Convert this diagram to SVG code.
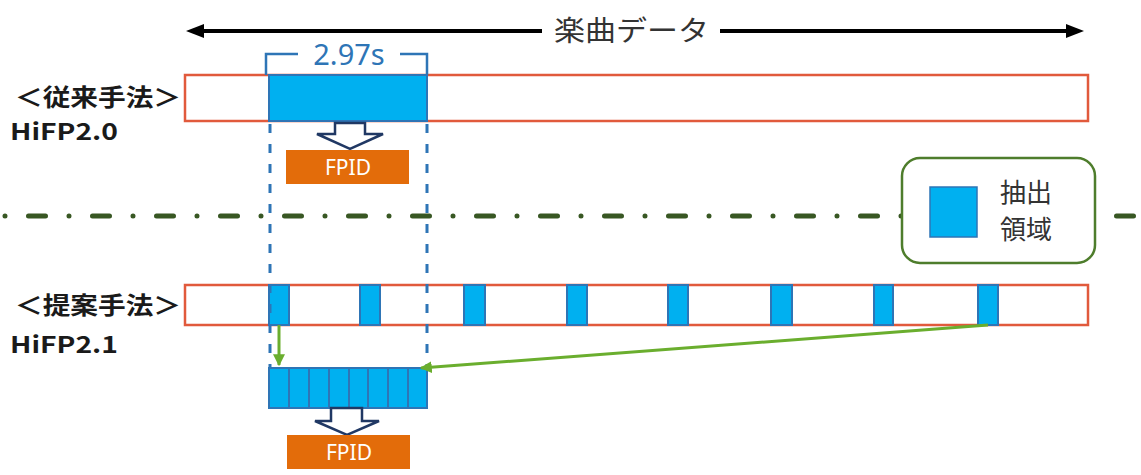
<svg xmlns="http://www.w3.org/2000/svg" width="1141" height="475" viewBox="0 0 1141 475">
<style>
.jp{font-family:"Noto Sans CJK JP","Noto Sans",sans-serif;}
.lbl{font-family:"Noto Sans CJK JP","Noto Sans",sans-serif;font-weight:bold;fill:#1a1a1a;}
.bar{fill:#ffffff;stroke:#E15A3C;stroke-width:2.5;}
.seg{fill:#00B0F0;stroke:#2E75B6;stroke-width:2;}
.fpid{fill:#E36C0A;}
.fpidt{font-family:"Noto Sans","Liberation Sans",sans-serif;font-size:21px;fill:#ffffff;}
.hollow{fill:#ffffff;stroke:#203864;stroke-width:2.5;stroke-linejoin:miter;}
.vdash{stroke:#2E75B6;stroke-width:3;stroke-dasharray:9 11;fill:none;}
.green{stroke:#6AAE2E;stroke-width:3;fill:none;}
</style>
<defs>
<marker id="gh" viewBox="0 0 10 10" refX="9" refY="5" markerWidth="4" markerHeight="4" orient="auto" markerUnits="strokeWidth">
<path d="M0,0 L10,5 L0,10 z" fill="#6AAE2E"/>
</marker>
</defs>
<rect width="1141" height="475" fill="#ffffff"/>

<!-- divider dash-dot line -->
<line x1="5" y1="216" x2="1141" y2="216" stroke="#385723" stroke-width="5" stroke-linecap="round" stroke-dasharray="0 23.5 17 23.5"/>

<!-- top span arrow -->
<g id="span">
<line x1="200" y1="31" x2="542" y2="31" stroke="#000" stroke-width="4"/>
<path d="M186,31 L204,24 L204,38 z" fill="#000"/>
<line x1="720" y1="31" x2="1068" y2="31" stroke="#000" stroke-width="4"/>
<path d="M1084,31 L1066,24 L1066,38 z" fill="#000"/>
<text class="jp" x="554" y="41" font-size="28" textLength="155" lengthAdjust="spacingAndGlyphs" fill="#333">楽曲データ</text>
</g>

<!-- conventional method -->
<g id="conv-label">
<text class="lbl" x="15" y="106" font-size="24" textLength="166" lengthAdjust="spacingAndGlyphs">＜従来手法＞</text>
<text class="lbl" x="10" y="140" font-size="23" textLength="108" lengthAdjust="spacingAndGlyphs">HiFP2.0</text>
</g>
<g id="conv-bar">
<rect class="bar" x="185" y="75" width="903" height="46"/>
<rect class="seg" x="269" y="75" width="158" height="46"/>
</g>
<g id="bracket">
<path d="M266,75 L266,54 L298,54 M400,54 L427,54 L427,75" fill="none" stroke="#2E75B6" stroke-width="2.5"/>
<text x="349" y="65" font-family="Noto Sans,Liberation Sans,sans-serif" font-size="29" fill="#2E75B6" text-anchor="middle">2.97s</text>
</g>
<g id="conv-arrow">
<path class="hollow" d="M335,123 L365,123 L365,134 L383,134 L350,149 L317,134 L335,134 z"/>
</g>
<g id="conv-fpid">
<rect class="fpid" x="286" y="150" width="123" height="34"/>
<text class="fpidt" x="348" y="175" text-anchor="middle">FPID</text>
</g>

<!-- legend -->
<g id="legend">
<rect x="902" y="158" width="193" height="105" rx="18" fill="#ffffff" stroke="#4E7D2C" stroke-width="2.5"/>
<rect x="930" y="187" width="47" height="50" fill="#00B0F0" stroke="#2E75B6" stroke-width="1.5"/>
<text class="jp" x="1000" y="202" font-size="26" fill="#333">抽出</text>
<text class="jp" x="1000" y="239" font-size="26" fill="#333">領域</text>
</g>

<!-- proposed method -->
<g id="prop-label">
<text class="lbl" x="15" y="314" font-size="24" textLength="166" lengthAdjust="spacingAndGlyphs">＜提案手法＞</text>
<text class="lbl" x="10" y="353" font-size="23" textLength="108" lengthAdjust="spacingAndGlyphs">HiFP2.1</text>
</g>
<g id="prop-bar">
<rect class="bar" x="185" y="285" width="903" height="40"/>
<rect class="seg" x="269" y="285" width="20" height="40"/>
<rect class="seg" x="360" y="285" width="20" height="40"/>
<rect class="seg" x="464" y="285" width="21" height="40"/>
<rect class="seg" x="567" y="285" width="20" height="40"/>
<rect class="seg" x="668" y="285" width="20" height="40"/>
<rect class="seg" x="771" y="285" width="21" height="40"/>
<rect class="seg" x="874" y="285" width="19" height="40"/>
<rect class="seg" x="978" y="285" width="20" height="40"/>
</g>
<g id="combined">
<rect class="seg" x="269" y="368" width="158" height="40"/>
<path d="M289,368 V408 M309,368 V408 M329,368 V408 M349,368 V408 M368,368 V408 M388,368 V408 M408,368 V408" stroke="#2E75B6" stroke-width="2"/>
</g>
<g id="prop-arrow">
<path class="hollow" d="M331,408 L362,408 L362,421 L379,421 L347,435 L315,421 L331,421 z"/>
</g>
<g id="prop-fpid">
<rect class="fpid" x="287" y="435" width="123" height="34"/>
<text class="fpidt" x="349" y="460" text-anchor="middle">FPID</text>
</g>

<!-- connectors -->
<g id="connectors">
<line class="vdash" x1="270" y1="124" x2="270" y2="368"/>
<line class="vdash" x1="427" y1="124" x2="427" y2="368"/>
<line class="green" x1="279" y1="325" x2="279" y2="365" marker-end="url(#gh)"/>
<line class="green" x1="988" y1="325" x2="421" y2="368" marker-end="url(#gh)"/>
</g>
</svg>
